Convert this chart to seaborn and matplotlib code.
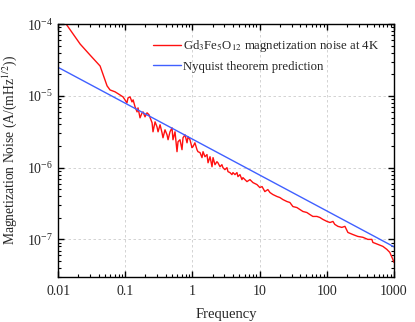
import numpy as np
import pandas as pd
import matplotlib
matplotlib.use("Agg")
import matplotlib.pyplot as plt
import seaborn as sns

freq = [0.01, 0.0132, 0.0213, 0.0299, 0.0422, 0.0536, 0.0594, 0.0705, 0.0837, 0.0927,
        0.106, 0.110, 0.118, 0.126, 0.131, 0.140, 0.150, 0.155, 0.166, 0.178,
        0.184, 0.197, 0.211, 0.226, 0.251, 0.259, 0.278, 0.297, 0.308, 0.330,
        0.353, 0.365, 0.391, 0.419, 0.434, 0.464, 0.497, 0.514, 0.551, 0.590,
        0.611, 0.654, 0.700, 0.725, 0.776, 0.832, 0.861, 0.921, 0.986, 1.02,
        1.09, 1.17, 1.21, 1.30, 1.39, 1.44, 1.54, 1.65, 1.71, 1.83,
        1.96, 2.03, 2.17, 2.32, 2.40, 2.58, 2.75, 2.85, 3.05, 3.27,
        3.39, 3.63, 3.88, 4.02, 4.31, 4.61, 4.77, 5.11, 5.47, 5.66,
        6.50, 7.20, 7.98, 9.15, 10.1, 10.9, 12.0, 13.3, 14.3, 15.8,
        18.2, 20.1, 22.3, 25.6, 28.3, 31.4, 36.0, 39.9, 44.3, 50.7,
        56.2, 62.3, 71.5, 79.2, 87.8, 101, 112, 124, 132, 147,
        168, 187, 207, 245, 291, 346, 410, 471, 487, 578,
        686, 787, 871, 966, 1000]
noise = [1.47e-4, 1.0e-4, 5.28e-5, 3.71e-5, 2.61e-5, 1.38e-5, 1.21e-5, 1.14e-5, 1.03e-5, 9.68e-6,
         8.0e-6, 9.38e-6, 9.68e-6, 8.25e-6, 8.80e-6, 7.03e-6, 5.99e-6, 6.81e-6, 4.95e-6, 5.81e-6,
         5.99e-6, 5.11e-6, 5.81e-6, 5.45e-6, 4.22e-6, 3.16e-6, 4.35e-6, 3.71e-6, 3.16e-6, 3.96e-6,
         3.06e-6, 2.61e-6, 3.37e-6, 2.87e-6, 2.45e-6, 3.16e-6, 3.59e-6, 2.45e-6, 3.16e-6, 1.67e-6,
         2.30e-6, 2.45e-6, 1.78e-6, 2.61e-6, 2.87e-6, 2.22e-6, 2.70e-6, 2.45e-6, 1.90e-6, 1.96e-6,
         2.22e-6, 1.78e-6, 1.67e-6, 1.62e-6, 1.38e-6, 1.67e-6, 1.42e-6, 1.52e-6, 1.17e-6, 1.42e-6,
         1.03e-6, 1.38e-6, 1.10e-6, 1.21e-6, 1.17e-6, 1.03e-6, 1.10e-6, 1.0e-6, 9.38e-7, 1.0e-6,
         8.80e-7, 8.53e-7, 8.0e-7, 8.53e-7, 8.0e-7, 8.53e-7, 7.50e-7, 8.0e-7, 6.81e-7, 7.26e-7,
         6.39e-7, 6.81e-7, 6.19e-7, 5.81e-7, 5.28e-7, 5.45e-7, 4.64e-7, 4.95e-7, 4.50e-7, 4.22e-7,
         3.96e-7, 3.83e-7, 3.59e-7, 3.37e-7, 3.27e-7, 2.87e-7, 2.78e-7, 2.61e-7, 2.45e-7, 2.37e-7,
         2.22e-7, 2.09e-7, 2.09e-7, 2.02e-7, 1.90e-7, 1.78e-7, 1.72e-7, 1.78e-7, 1.62e-7, 1.52e-7,
         1.47e-7, 1.52e-7, 1.25e-7, 1.17e-7, 1.10e-7, 1.07e-7, 1.0e-7, 1.0e-7, 9.08e-8, 8.53e-8,
         8.0e-8, 7.26e-8, 6.59e-8, 5.28e-8, 4.80e-8]

# Nyquist prediction: straight line on log-log axes, endpoints
nyq_freq = [0.01, 1000]
nyq_noise = [2.5e-5, 7.9e-8]

xticks = [0.01, 0.1, 1, 10, 100, 1000]
xtick_labels = ["0.01", "0.1", "1", "10", "100", "1000"]

sns.set_theme(style="ticks")
plt.rcParams.update({
    "font.family": ["Liberation Serif", "DejaVu Serif"],
    "mathtext.fontset": "stix",
    "font.size": 10,
    "xtick.direction": "in",
    "ytick.direction": "in",
    "xtick.top": True,
    "ytick.right": True,
    "xtick.minor.visible": True,
    "ytick.minor.visible": True,
    "axes.edgecolor": "black",
    "axes.linewidth": 1.0,
})

df_meas = pd.DataFrame({"Frequency": freq, "Noise": noise})
df_nyq = pd.DataFrame({"Frequency": nyq_freq, "Noise": nyq_noise})

fig = plt.figure(figsize=(4.15, 3.22), dpi=100)
ax = fig.add_axes([0.140, 0.140, 0.809, 0.785])

sns.lineplot(data=df_meas, x="Frequency", y="Noise", ax=ax, color="#ff1010", lw=1.0,
             label=r"Gd$_3$Fe$_5$O$_{12}$ magnetization noise at 4K")
sns.lineplot(data=df_nyq, x="Frequency", y="Noise", ax=ax, color="#4060ff", lw=1.0,
             label="Nyquist theorem prediction")

ax.set_xscale("log")
ax.set_yscale("log")
ax.set_xlim(0.01, 1000)
ax.set_ylim(3.0e-8, 1e-4)
ax.set_xticks(xticks)
ax.set_xticklabels(xtick_labels)
ax.tick_params(which="major", length=4, width=1, labelsize=10, color="black")
ax.tick_params(axis="x", which="major", pad=6)
ax.tick_params(which="minor", length=2, width=0.8, color="black")
ax.grid(True, which="major", color="#cccccc", ls=(0, (3, 3)), lw=0.6)

ax.set_xlabel("Frequency", fontsize=10.5, labelpad=7)
ax.set_ylabel(r"Magnetization Noise (A/(mHz$^{1/2}$))", fontsize=9.8, labelpad=6)

ax.legend(loc="upper right", frameon=False, fontsize=9.2, handlelength=2.2,
          borderaxespad=0.7, labelspacing=0.5, handletextpad=0.2)

fig.savefig("out.png", dpi=100)
